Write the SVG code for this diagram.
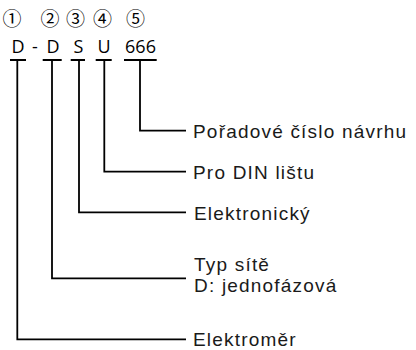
<svg xmlns="http://www.w3.org/2000/svg" width="416" height="350" viewBox="0 0 416 350">
<style>
.num{font-family:"Noto Sans CJK JP","DejaVu Sans",sans-serif;font-size:19px;fill:#000;text-anchor:middle}
.code{font-family:"Open Sans","Noto Sans",sans-serif;font-size:18px;fill:#000;text-anchor:middle}
.lbl{font-family:"Liberation Sans",Arial,sans-serif;font-size:19px;letter-spacing:1.2px;fill:#1a1a1a}
.ln{fill:none;stroke:#000;stroke-width:1.8}
</style>
<rect width="416" height="350" fill="#fff"/>
<g id="header">
<text class="num" x="12" y="26">①</text>
<text class="num" x="50" y="26">②</text>
<text class="num" x="75.5" y="26">③</text>
<text class="num" x="102.5" y="26">④</text>
<text class="num" x="135.5" y="26">⑤</text>
<text class="code" x="18" y="53">D</text>
<text class="code" x="35" y="53">-</text>
<text class="code" x="53" y="53">D</text>
<text class="code" x="78.5" y="53">S</text>
<text class="code" x="104" y="53">U</text>
<text class="code" x="140.5" y="53">666</text>
</g>
<g id="connectors">
<path class="ln" d="M10 60H26M17.3 60V339.3H186"/>
<path class="ln" d="M42.7 60H61.7M52 60V278.3H186"/>
<path class="ln" d="M70.7 60H85M79 60V212.3H186"/>
<path class="ln" d="M95.7 60H111.7M104.3 60V171.7H186"/>
<path class="ln" d="M124 60H156.7M140 60V130.7H186"/>
</g>
<g id="n5"><text class="lbl" x="193" y="137.5">Pořadové číslo návrhu</text></g>
<g id="n4"><text class="lbl" x="193" y="179">Pro DIN lištu</text></g>
<g id="n3"><text class="lbl" x="194" y="220">Elektronický</text></g>
<g id="n2"><text class="lbl" x="194" y="271">Typ sítě</text><text class="lbl" x="194" y="292">D: jednofázová</text></g>
<g id="n1"><text class="lbl" x="193" y="346">Elektroměr</text></g>
</svg>
